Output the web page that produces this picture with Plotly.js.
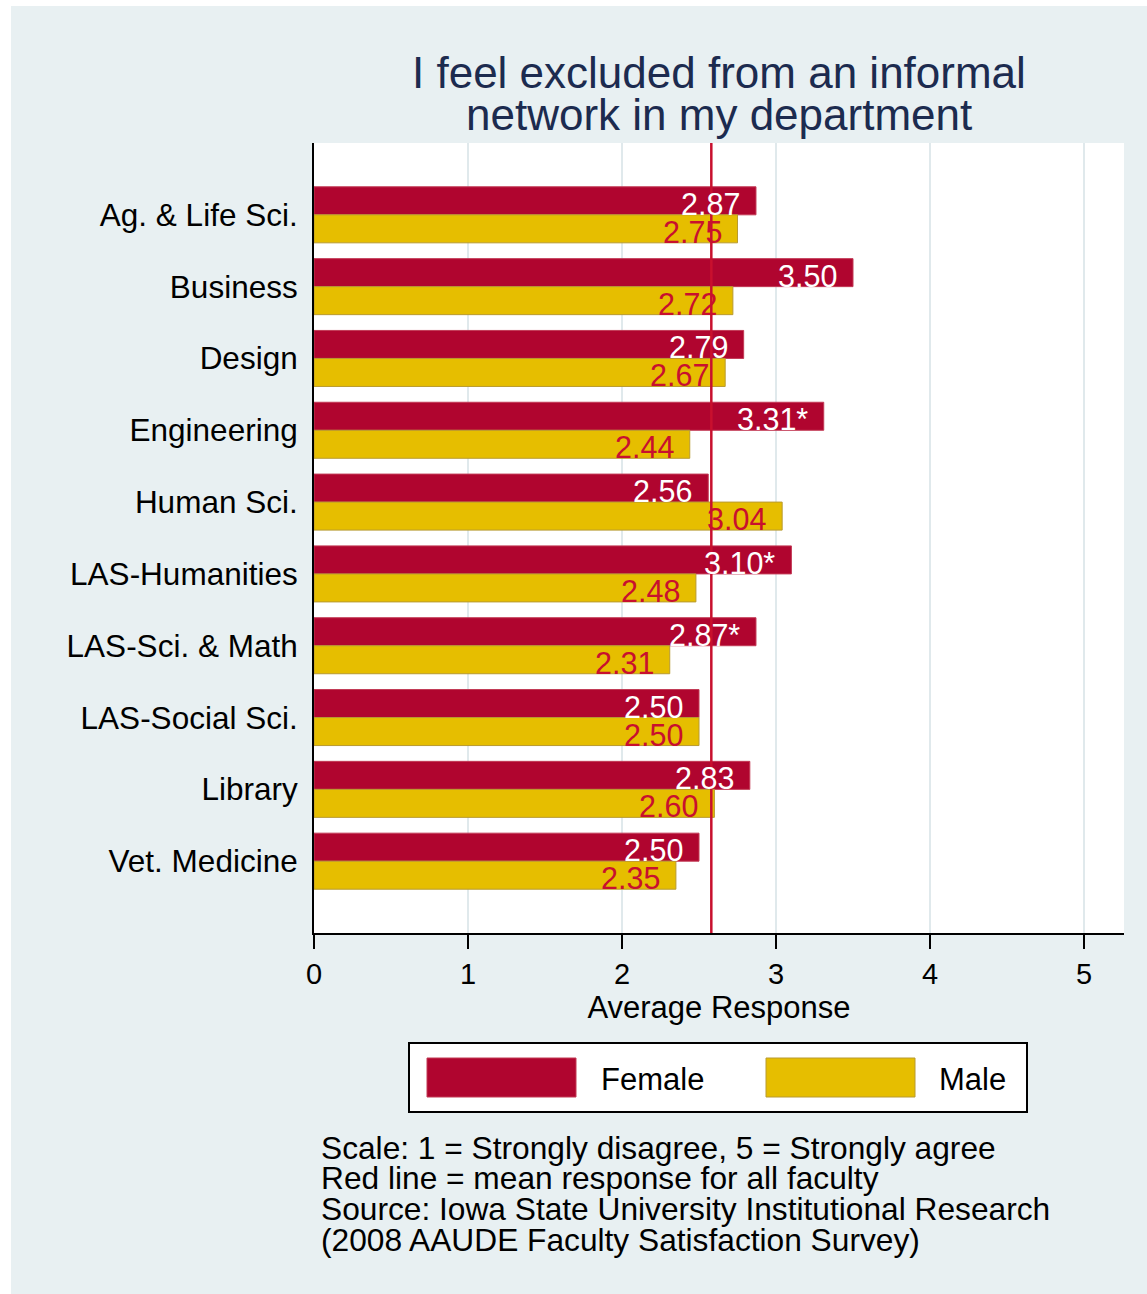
<!DOCTYPE html>
<html>
<head>
<meta charset="utf-8">
<script src="https://cdn.plot.ly/plotly-3.0.1.min.js"></script>
<style>
  html, body { margin: 0; padding: 0; background: #ffffff; }
  #chart { position: absolute; left: 11px; top: 6px; width: 1136px; height: 1288px; }
</style>
</head>
<body>
<div id="chart"></div>
<script>
// ---- data ----
const categories = ["Ag. & Life Sci.", "Business", "Design", "Engineering", "Human Sci.",
  "LAS-Humanities", "LAS-Sci. & Math", "LAS-Social Sci.", "Library", "Vet. Medicine"];
const femaleValues = [2.87, 3.50, 2.79, 3.31, 2.56, 3.10, 2.87, 2.50, 2.83, 2.50];
const maleValues   = [2.75, 2.72, 2.67, 2.44, 3.04, 2.48, 2.31, 2.50, 2.60, 2.35];
const femaleSignif = [false, false, false, true, false, true, true, false, false, false];
const seriesNames = ["Female", "Male"];
const meanAll = 2.58;
const xTicks = [0, 1, 2, 3, 4, 5];
const titleLines = ["I feel excluded from an informal", "network in my department"];
const xTitle = "Average Response";
const noteLines = [
  "Scale: 1 = Strongly disagree, 5 = Strongly agree",
  "Red line = mean response for all faculty",
  "Source: Iowa State University Institutional Research",
  "(2008 AAUDE Faculty Satisfaction Survey)"
];

// ---- styling ----
const FONT = "Liberation Sans, Arial, Helvetica, sans-serif";
const FEMALE = "#b0052f";
const MALE = "#e6be00";
const LABELRED = "#c8102e";
const BG = "#e8f0f2";

// page-pixel -> paper helpers (plot area in page px: x 314..1124, y 143..933)
const PL = 314, PR = 1124, PT = 143, PB = 933;
const px = v => (v - PL) / (PR - PL);
const py = v => (PB - v) / (PB - PT);

const traces = [
  {
    type: "bar", orientation: "h", name: seriesNames[0],
    y: categories, x: femaleValues,
    marker: { color: FEMALE, line: { color: "#c23a55", width: 1 } },
    hoverinfo: "x+y"
  },
  {
    type: "bar", orientation: "h", name: seriesNames[1],
    y: categories, x: maleValues,
    marker: { color: MALE, line: { color: "#b89a30", width: 1 } },
    hoverinfo: "x+y"
  }
];

const annotations = [];
// bar value labels
categories.forEach((c, i) => {
  annotations.push({
    x: femaleValues[i], y: c, xref: "x", yref: "y",
    text: femaleValues[i].toFixed(2) + (femaleSignif[i] ? "*" : ""),
    showarrow: false, xanchor: "right", yanchor: "middle",
    xshift: -14, yshift: 11,
    font: { family: FONT, size: 30.5, color: "#ffffff" }
  });
  annotations.push({
    x: maleValues[i], y: c, xref: "x", yref: "y",
    text: maleValues[i].toFixed(2),
    showarrow: false, xanchor: "right", yanchor: "middle",
    xshift: -14, yshift: -17,
    font: { family: FONT, size: 30.5, color: LABELRED }
  });
});
// title lines
const titleY = [73, 114];
titleLines.forEach((t, i) => {
  annotations.push({
    x: px(719), y: py(titleY[i]), xref: "paper", yref: "paper",
    text: t, showarrow: false, xanchor: "center", yanchor: "middle",
    font: { family: FONT, size: 44, color: "#1c2b4f" }
  });
});
// notes
const noteY = [1148, 1178, 1209, 1240];
noteLines.forEach((t, i) => {
  annotations.push({
    x: px(319), y: py(noteY[i]), xref: "paper", yref: "paper",
    text: t, showarrow: false, xanchor: "left", yanchor: "middle",
    font: { family: FONT, size: 31.7, color: "#000000" }
  });
});
// legend labels
const legendLabelX = [599, 937];
seriesNames.forEach((n, i) => {
  annotations.push({
    x: px(legendLabelX[i]), y: py(1079), xref: "paper", yref: "paper",
    text: n, showarrow: false, xanchor: "left", yanchor: "middle",
    font: { family: FONT, size: 31, color: "#000000" }
  });
});

const shapes = [
  // mean line
  {
    type: "line", xref: "x", yref: "paper", x0: meanAll, x1: meanAll, y0: 0, y1: 1,
    line: { color: LABELRED, width: 2.5 }, layer: "above"
  },
  // legend box
  {
    type: "rect", xref: "paper", yref: "paper",
    x0: px(409), x1: px(1027), y0: py(1112), y1: py(1043),
    fillcolor: "#ffffff", line: { color: "#000000", width: 2 }
  },
  // legend swatches
  {
    type: "rect", xref: "paper", yref: "paper",
    x0: px(427), x1: px(576), y0: py(1097), y1: py(1058),
    fillcolor: FEMALE, line: { color: "#c23a55", width: 1 }
  },
  {
    type: "rect", xref: "paper", yref: "paper",
    x0: px(766), x1: px(915), y0: py(1097), y1: py(1058),
    fillcolor: MALE, line: { color: "#b89a30", width: 1 }
  }
];

const layout = {
  width: 1136, height: 1288,
  paper_bgcolor: BG, plot_bgcolor: "#ffffff",
  margin: { l: PL - 11, r: 1147 - PR, t: PT - 6, b: 1294 - PB },
  showlegend: false,
  barmode: "group",
  bargap: 0.22, bargroupgap: 0,
  font: { family: FONT, size: 30, color: "#000000" },
  xaxis: {
    range: [0, (PR - PL) / 154],
    tickvals: xTicks, ticktext: xTicks.map(String),
    ticks: "outside", ticklen: 14, tickwidth: 2, tickcolor: "#000000",
    showline: true, linecolor: "#000000", linewidth: 2,
    showgrid: true, gridcolor: "#e0e9ec", gridwidth: 2,
    zeroline: false,
    tickfont: { family: FONT, size: 29, color: "#000000" },
    title: { text: xTitle, font: { family: FONT, size: 31, color: "#000000" }, standoff: 3 }
  },
  yaxis: {
    type: "category",
    categoryorder: "array", categoryarray: categories,
    range: [categories.length, -1],
    showline: true, linecolor: "#000000", linewidth: 2,
    showgrid: false, zeroline: false, ticks: "",
    ticklabelstandoff: 8,
    tickfont: { family: FONT, size: 31.5, color: "#000000" }
  },
  annotations: annotations,
  shapes: shapes
};

Plotly.newPlot("chart", traces, layout, { displayModeBar: false, staticPlot: true });
</script>
</body>
</html>
